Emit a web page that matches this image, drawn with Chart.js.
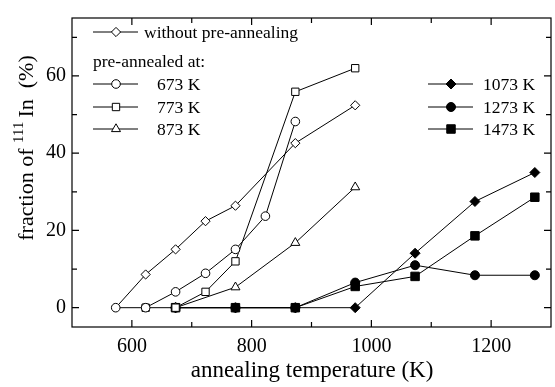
<!DOCTYPE html>
<html><head><meta charset="utf-8">
<script src="https://cdn.jsdelivr.net/npm/chart.js@4.4.0/dist/chart.umd.min.js"></script>
<style>
html,body{margin:0;padding:0;background:#fff;overflow:hidden;width:555px;height:387px}
#wrap{position:absolute;left:0;top:0;width:558px;height:387px}
</style></head>
<body><div id="wrap"><canvas id="c" width="558" height="387"></canvas></div>
<script>
// ---- data ----
const xTickValues = [600, 700, 800, 900, 1000, 1100, 1200];
const xTickLabels = [600, 800, 1000, 1200];
const yTickValues = [0, 10, 20, 30, 40, 50, 60, 70];
const yTickLabels = [0, 20, 40, 60];

const noPreX = [573, 623, 673, 723, 773, 873, 973];
const noPreY = [0, 8.6, 15.1, 22.4, 26.4, 42.6, 52.4];

const pre673X = [573, 623, 673, 723, 773, 823, 873];
const pre673Y = [0, 0, 4.1, 8.9, 15.1, 23.7, 48.2];

const pre773X = [623, 673, 723, 773, 873, 973];
const pre773Y = [0, 0, 4.1, 12.0, 55.9, 62.0];

const pre873X = [673, 773, 873, 973];
const pre873Y = [0, 5.3, 16.8, 31.2];

const pre1073X = [673, 773, 873, 973, 1073, 1173, 1273];
const pre1073Y = [0, 0, 0, 0, 14.1, 27.5, 35.0];

const pre1273X = [673, 773, 873, 973, 1073, 1173, 1273];
const pre1273Y = [0, 0, 0, 6.5, 11.0, 8.4, 8.4];

const pre1473X = [673, 773, 873, 973, 1073, 1173, 1273];
const pre1473Y = [0, 0, 0, 5.5, 8.1, 18.6, 28.6];

const legendTitle = 'pre-annealed at:';
const labelNoPre = 'without pre-annealing';
const label673 = '673 K', label773 = '773 K', label873 = '873 K';
const label1073 = '1073 K', label1273 = '1273 K', label1473 = '1473 K';

// ---- build ----
const SERIF = '"Liberation Serif", "Times New Roman", serif';
const pts = (xs, ys) => xs.map((x, i) => ({x: x, y: ys[i]}));

function ds(label, xs, ys, style, filled, radius, hideFirst) {
  return {
    label: label,
    data: pts(xs, ys),
    borderColor: '#000',
    borderWidth: 1,
    showLine: true,
    tension: 0,
    pointStyle: style,
    pointRadius: hideFirst ? xs.map((_, i) => i === 0 ? 0 : radius) : radius,
    pointBorderWidth: 1,
    pointBorderColor: '#000',
    pointBackgroundColor: filled ? '#000' : '#fff',
    _legendStyle: style, _legendFilled: filled, _legendRadius: radius
  };
}

const datasets = [
  ds(label673, pre673X, pre673Y, 'circle', false, 4.3),
  ds(label773, pre773X, pre773Y, 'rect', false, 5.2),
  ds(label873, pre873X, pre873Y, 'triangle', false, 5.2),
  ds(labelNoPre, noPreX, noPreY, 'rectRot', false, 4.6, true),
  ds(label1073, pre1073X, pre1073Y, 'rectRot', true, 5),
  ds(label1273, pre1273X, pre1273Y, 'circle', true, 4.5),
  ds(label1473, pre1473X, pre1473Y, 'rect', true, 6)
];

const framePlugin = {
  id: 'frame',
  afterDraw(chart) {
    const ctx = chart.ctx;
    const a = chart.chartArea;
    const xs = chart.scales.x, ys = chart.scales.y;
    ctx.save();
    ctx.strokeStyle = '#000';
    ctx.lineWidth = 1.2;
    ctx.strokeRect(a.left, a.top, a.right - a.left, a.bottom - a.top);
    ctx.beginPath();
    xTickValues.forEach(v => {
      const px = xs.getPixelForValue(v);
      const len = xTickLabels.includes(v) ? 7 : 5;
      ctx.moveTo(px, a.bottom); ctx.lineTo(px, a.bottom - len);
      ctx.moveTo(px, a.top); ctx.lineTo(px, a.top + len);
    });
    yTickValues.forEach(v => {
      const py = ys.getPixelForValue(v);
      const len = yTickLabels.includes(v) ? 7 : 5;
      ctx.moveTo(a.left, py); ctx.lineTo(a.left + len, py);
      ctx.moveTo(a.right, py); ctx.lineTo(a.right - len, py);
    });
    ctx.stroke();

    // axis titles
    ctx.fillStyle = '#000';
    ctx.font = '23px ' + SERIF;
    ctx.textAlign = 'center';
    ctx.textBaseline = 'middle';
    ctx.fillText('annealing temperature (K)', 312, 371);

    // y title with superscript
    ctx.save();
    ctx.translate(33, 148);
    ctx.rotate(-Math.PI / 2);
    const p1 = 'fraction of ', p2 = '111', p3 = 'In  (%)';
    const gap = 4;
    ctx.font = '22px ' + SERIF; const w1 = ctx.measureText(p1).width;
    ctx.font = '15px ' + SERIF; const w2 = ctx.measureText(p2).width;
    ctx.font = '22px ' + SERIF; const w3 = ctx.measureText(p3).width;
    const x0 = -(w1 + w2 + gap + w3) / 2;
    ctx.textAlign = 'left';
    ctx.textBaseline = 'alphabetic';
    ctx.font = '22px ' + SERIF; ctx.fillText(p1, x0, 0);
    ctx.font = '15px ' + SERIF; ctx.fillText(p2, x0 + w1, -10);
    ctx.font = '22px ' + SERIF; ctx.fillText(p3, x0 + w1 + w2 + gap, 0);
    ctx.restore();

    // legend
    const entry = (d, lx1, lx2, mx, y, tx, text) => {
      ctx.lineWidth = 1;
      ctx.strokeStyle = '#000';
      ctx.beginPath(); ctx.moveTo(lx1, y); ctx.lineTo(lx2, y); ctx.stroke();
      ctx.fillStyle = d._legendFilled ? '#000' : '#fff';
      Chart.helpers.drawPoint(ctx, {pointStyle: d._legendStyle, radius: d._legendRadius, rotation: 0, borderWidth: 1}, mx, y);
      ctx.fillStyle = '#000';
      ctx.font = '17.5px ' + SERIF;
      ctx.textAlign = 'left';
      ctx.textBaseline = 'middle';
      ctx.fillText(text, tx, y + 1);
    };
    const byLabel = l => datasets.find(d => d.label === l);
    entry(byLabel(labelNoPre), 93, 138, 116, 32, 144, labelNoPre);
    ctx.fillStyle = '#000';
    ctx.font = '17.5px ' + SERIF;
    ctx.textAlign = 'left'; ctx.textBaseline = 'middle';
    ctx.fillText(legendTitle, 93, 62);
    entry(byLabel(label673), 93, 138, 116, 84, 157, label673);
    entry(byLabel(label773), 93, 138, 116, 107, 157, label773);
    entry(byLabel(label873), 93, 138, 116, 129, 157, label873);
    entry(byLabel(label1073), 428, 473, 451, 84, 483, label1073);
    entry(byLabel(label1273), 428, 473, 451, 107, 483, label1273);
    entry(byLabel(label1473), 428, 473, 451, 129, 483, label1473);
    ctx.restore();
  }
};

new Chart(document.getElementById('c'), {
  type: 'scatter',
  data: {datasets: datasets},
  options: {
    responsive: false,
    devicePixelRatio: 1,
    animation: false,
    layout: {padding: {top: 8, right: 2, left: 0, bottom: 0}},
    plugins: {legend: {display: false}, tooltip: {enabled: false}},
    scales: {
      x: {
        type: 'linear', min: 500, max: 1300,
        afterBuildTicks: s => { s.ticks = xTickValues.map(v => ({value: v})); },
        afterFit: s => { s.height = 60; },
        grid: {display: false, drawTicks: false},
        border: {display: false},
        ticks: {
          autoSkip: false, maxRotation: 0, padding: 8, color: '#000',
          font: {family: SERIF, size: 20},
          callback: v => xTickLabels.includes(v) ? String(v) : ''
        }
      },
      y: {
        type: 'linear', min: -5, max: 75,
        afterBuildTicks: s => { s.ticks = yTickValues.map(v => ({value: v})); },
        afterFit: s => { s.width = 72; },
        grid: {display: false, drawTicks: false},
        border: {display: false},
        ticks: {
          autoSkip: false, padding: 6, color: '#000',
          font: {family: SERIF, size: 20},
          callback: v => yTickLabels.includes(v) ? String(v) : ''
        }
      }
    }
  },
  plugins: [framePlugin]
});
</script>
</body></html>
